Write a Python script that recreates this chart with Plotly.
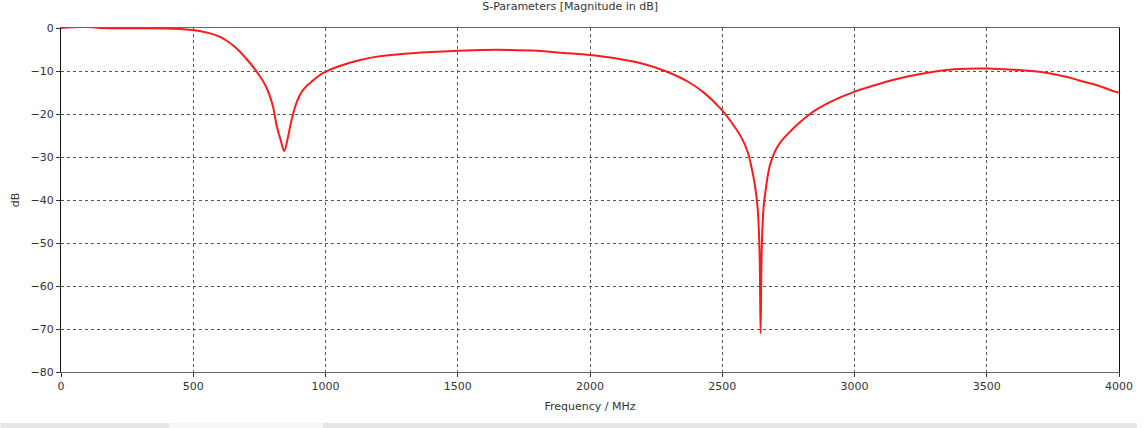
import plotly.graph_objects as go

freq_mhz = [0, 40, 80, 120, 160, 200, 300, 400, 450, 524, 560, 599, 625, 650, 675, 700, 738,
            775, 800, 815, 832, 844, 857, 866, 876, 888, 900, 913, 930, 951, 975, 999, 1045,
            1127, 1200, 1278, 1400, 1500, 1600, 1700, 1800, 1900, 2000, 2100, 2200, 2284,
            2371, 2434, 2499, 2547, 2570, 2595, 2612, 2624, 2634, 2641, 2645, 2649, 2656,
            2666, 2680, 2700, 2723, 2750, 2785, 2823, 2860, 2911, 3001, 3099, 3200, 3288,
            3376, 3500, 3627, 3700, 3791, 3850, 3916, 3985, 4000]
s11_db = [0, 0.15, 0.25, 0.15, 0.0, -0.05, -0.05, -0.1, -0.25, -0.7, -1.2, -2.0, -2.9, -4.0,
          -5.4, -7.1, -10, -13.6, -17.9, -22.6, -26.4, -28.6, -25.7, -23.0, -20.3, -17.8,
          -16.0, -14.6, -13.4, -12.3, -11.1, -10.2, -9.0, -7.5, -6.6, -6.1, -5.6, -5.3, -5.1,
          -5.1, -5.3, -5.8, -6.3, -7.1, -8.3, -10, -12.5, -15.2, -19.1, -23, -25.2, -28.6,
          -32.8, -36.8, -42, -52, -71, -52, -42, -36.8, -32.0, -28.6, -26.3, -24.5, -22.4,
          -20.4, -18.8, -17.1, -14.8, -12.9, -11.3, -10.3, -9.6, -9.4, -9.8, -10.2, -11.2,
          -12.2, -13.3, -14.8, -15]

x_ticks = [0, 500, 1000, 1500, 2000, 2500, 3000, 3500, 4000]
y_ticks = [0, -10, -20, -30, -40, -50, -60, -70, -80]

font_family = "DejaVu Sans, Tahoma, sans-serif"

fig = go.Figure()
fig.add_trace(go.Scatter(x=freq_mhz, y=s11_db, mode="lines",
                         line=dict(color="#ff1a1a", width=2, shape="spline", smoothing=1.0),
                         showlegend=False))

axis_common = dict(showgrid=True, gridcolor="#555555", griddash="dot", gridwidth=1,
                   ticks="outside", ticklen=4, tickcolor="#333333", zeroline=False,
                   showline=True, mirror=True,
                   tickfont=dict(family=font_family, size=11, color="#333333"))

fig.update_xaxes(range=[0, 4000], tickvals=x_ticks, linecolor="#666666",
                 title=dict(text="Frequency / MHz", standoff=10,
                            font=dict(family=font_family, size=11, color="#333333")),
                 **axis_common)
fig.update_yaxes(range=[-80, 0], tickvals=y_ticks, linecolor="#111111",
                 title=dict(text="dB", standoff=8,
                            font=dict(family=font_family, size=11, color="#333333")),
                 **axis_common)

fig.update_layout(
    width=1145, height=428,
    margin=dict(l=61, r=18, t=28, b=56),
    paper_bgcolor="white", plot_bgcolor="white",
    title=dict(text="S-Parameters [Magnitude in dB]", x=0.498, xanchor="center",
               y=0.995, yanchor="top",
               font=dict(family=font_family, size=11, color="#333333")),
    shapes=[
        dict(type="rect", xref="paper", yref="paper", x0=-61/1066, x1=1084/1066,
             y0=-0.163, y1=-0.148, fillcolor="#e6e6e6", line=dict(width=0), layer="above"),
        dict(type="rect", xref="paper", yref="paper", x0=(170-61)/1066, x1=(325-61)/1066,
             y0=-0.163, y1=-0.148, fillcolor="#f7f7f7", line=dict(width=0), layer="above"),
    ],
)

fig.write_html("out.html")
